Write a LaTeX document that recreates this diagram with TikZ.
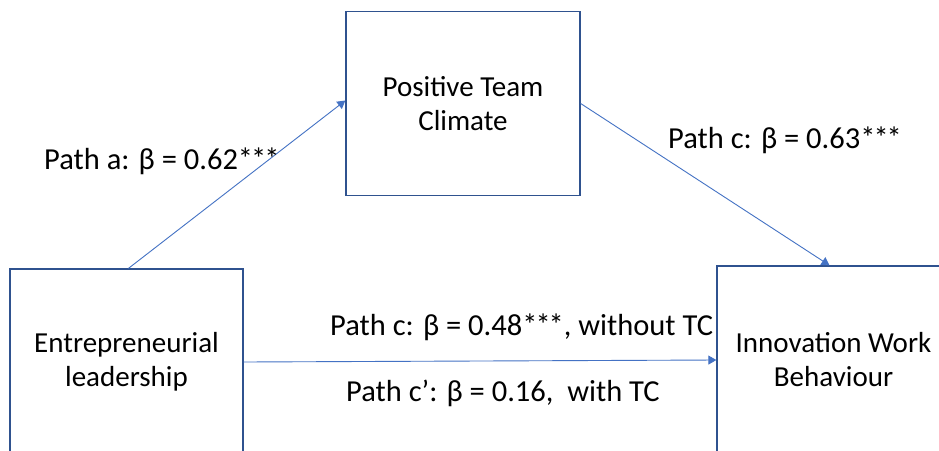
\documentclass[tikz,border=0pt]{standalone}
\usepackage{fontspec}
\setmainfont{Carlito}
\usetikzlibrary{arrows.meta}
\definecolor{boxline}{HTML}{2F528F}
\definecolor{arrowline}{HTML}{4472C4}
% three significance stars, set a little tighter
\newcommand{\sigstars}{*\kern-2pt*\kern-2pt*}
\begin{document}
\begin{tikzpicture}[x=1pt,y=-1pt,
  construct/.style={draw=boxline,line width=1.3pt,fill=white,align=center,
    font=\fontsize{29}{34}\selectfont,inner sep=0pt},
  link/.style={draw=arrowline,line width=0.9pt,-{Triangle[width=9pt,length=8pt]}},
  coef/.style={font=\fontsize{30.5}{34}\selectfont,inner sep=0pt}]
\useasboundingbox (0,0) rectangle (939,450);
\clip (0,0) rectangle (939,450);
\fill[white] (0,0) rectangle (939,450);
% constructs
\node[construct,minimum width=234pt,minimum height=184pt] (ptc) at (463,103.5)
  {Positive Team\\Climate};
\node[construct,minimum width=233pt,minimum height=186pt] (el) at (126.5,362)
  {Entrepreneurial\\leadership};
\node[construct,minimum width=233pt,minimum height=188pt] (iwb) at (833.5,360)
  {Innovation Work\\Behaviour};
% paths
\draw[link] ([xshift=2pt]el.north) -- ([yshift=3pt]ptc.west);
\draw[link] (ptc.east) -- ([xshift=-4pt]iwb.north);
\draw[link] (el.east) -- (iwb.west);
% coefficients
\node[coef,anchor=west] (pa) at (44,161) {Path a: β = 0.62\sigstars};
\node[coef,anchor=west] (pc) at (668,140) {Path c: β = 0.63\sigstars};
\node[coef,anchor=west] (pct) at (330,327) {Path c: β = 0.48\sigstars, without TC};
\node[coef,anchor=west] (pcd) at (346,393) {Path c’: β = 0.16,\ \ with TC};
\end{tikzpicture}
\end{document}
